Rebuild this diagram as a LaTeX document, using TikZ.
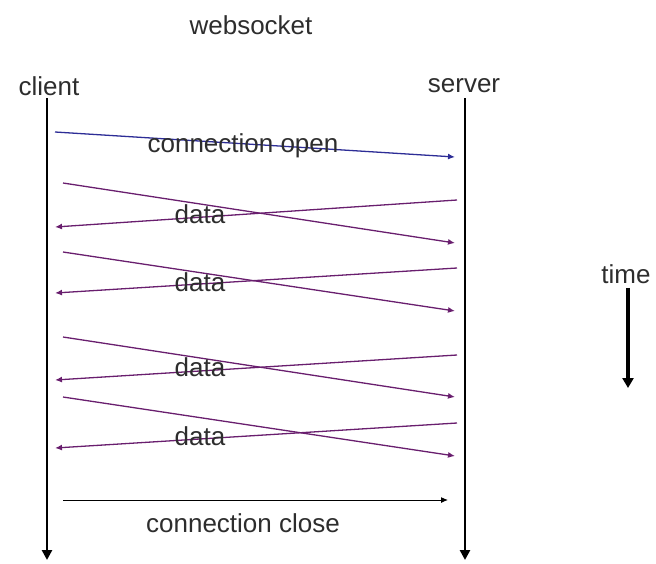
\documentclass[tikz,border=0pt]{standalone}
\usepackage{fontspec}
\setmainfont{Liberation Sans}
\usetikzlibrary{arrows.meta, positioning}

\definecolor{msgpurple}{RGB}{105,30,110}
\definecolor{openblue}{RGB}{45,45,150}
\definecolor{txtgray}{RGB}{45,45,45}

\tikzset{
    lbl/.style={font=\fontsize{26}{30}\selectfont, text=txtgray, inner sep=0pt},
    lifeline/.style={line width=2.6pt, -{Triangle[length=10pt,width=10pt]}},
    msg/.style={msgpurple, line width=1.3pt, -{Latex[length=7pt,width=6pt]}},
}

\begin{document}
\begin{tikzpicture}[x=1pt, y=-1pt]
    \useasboundingbox (0,0) rectangle (656,563);

    \node [lbl] (title) at (251, 25) {websocket};
    \node [lbl] (client) at (49, 86) {client};
    \node [lbl] (server) at (464, 86) {server};

    % lifelines
    \coordinate (cTop) at (47, 98);
    \coordinate (cBot) at (47, 560);
    \coordinate (sTop) at (465, 98);
    \coordinate (sBot) at (465, 560);
    \draw [lifeline] (cTop) -- (cBot);
    \draw [lifeline] (sTop) -- (sBot);

    % connection open
    \coordinate (o1) at (55, 132);
    \coordinate (o2) at (455, 157);
    \draw [msg, openblue] (o1) -- (o2);
    \node [lbl] (open) at (243, 146) {connection open};

    % data exchanges
    \coordinate (a1) at (63, 183);  \coordinate (a2) at (455, 243);
    \coordinate (a3) at (457, 200); \coordinate (a4) at (55, 227);
    \coordinate (b1) at (63, 252);  \coordinate (b2) at (455, 311);
    \coordinate (b3) at (457, 268); \coordinate (b4) at (55, 293);
    \coordinate (c1) at (63, 337);  \coordinate (c2) at (455, 397);
    \coordinate (c3) at (457, 355); \coordinate (c4) at (55, 380);
    \coordinate (d1) at (63, 397);  \coordinate (d2) at (455, 456);
    \coordinate (d3) at (457, 423); \coordinate (d4) at (55, 448);

    \draw [msg] (a1) -- (a2);
    \draw [msg] (a3) -- (a4);
    \draw [msg] (b1) -- (b2);
    \draw [msg] (b3) -- (b4);
    \draw [msg] (c1) -- (c2);
    \draw [msg] (c3) -- (c4);
    \draw [msg] (d1) -- (d2);
    \draw [msg] (d3) -- (d4);

    \node [lbl] (dA) at (200, 214) {data};
    \node [lbl] (dB) at (200, 282) {data};
    \node [lbl] (dC) at (200, 367) {data};
    \node [lbl] (dD) at (200, 436) {data};

    % connection close
    \coordinate (e1) at (63, 500);
    \coordinate (e2) at (448, 500);
    \draw [line width=1pt, -{Latex[length=7pt,width=6pt]}] (e1) -- (e2);
    \node [lbl] (close) at (243, 523) {connection close};

    % time axis
    \node [lbl] (time) at (626, 274) {time};
    \coordinate (tBot) at (628, 388);
    \draw [line width=3.5pt, -{Triangle[length=10pt,width=11pt]}] (time.south -| tBot) ++(0,4) -- (tBot);
\end{tikzpicture}
\end{document}
